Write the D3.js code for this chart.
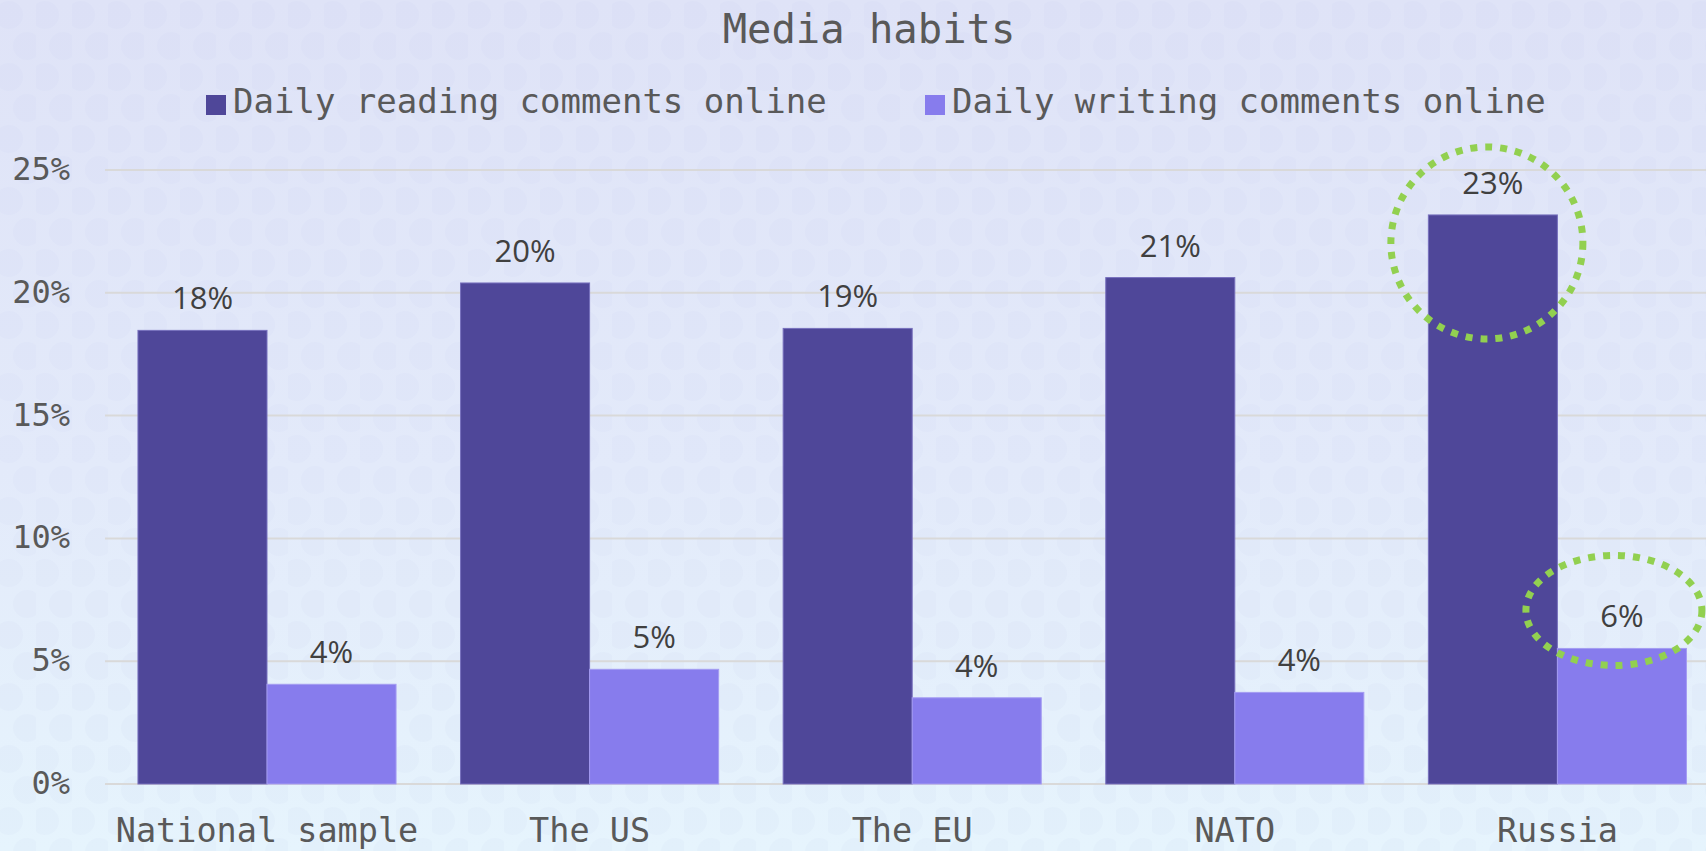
<!DOCTYPE html>
<html>
<head>
<meta charset="utf-8">
<script src="https://cdn.jsdelivr.net/npm/d3@7"></script>
<style>
  html, body { margin: 0; padding: 0; background: #e3e8f9; }
  svg { display: block; }
</style>
</head>
<body>
<svg id="chart" width="1706" height="851"></svg>
<script>
// ---- data ----
const title = "Media habits";
const categories = ["National sample", "The US", "The EU", "NATO", "Russia"];
const seriesNames = ["Daily reading comments online", "Daily writing comments online"];
const readingValues = [18.47, 20.4, 18.55, 20.62, 23.17];
const writingValues = [4.06, 4.67, 3.51, 3.73, 5.52];
const yTicks = [0, 5, 10, 15, 20, 25];
const highlighted = [{ category: "Russia", series: 0 }, { category: "Russia", series: 1 }];

const colors = ["#4f4799", "#877ced"];
const W = 1706, H = 851;
const svg = d3.select("#chart");

// background
const defs = svg.append("defs");
const grad = defs.append("linearGradient").attr("id", "bg").attr("x1", 0).attr("y1", 0).attr("x2", 0).attr("y2", 1);
grad.append("stop").attr("offset", "0%").attr("stop-color", "#dfe3f7");
grad.append("stop").attr("offset", "55%").attr("stop-color", "#e3eafa");
grad.append("stop").attr("offset", "100%").attr("stop-color", "#e6f4fd");
const pat = defs.append("pattern").attr("id", "dots").attr("patternUnits", "userSpaceOnUse")
  .attr("width", 36).attr("height", 62);
pat.append("circle").attr("cx", 9).attr("cy", 15).attr("r", 14).attr("fill", "#b8bfe8").attr("opacity", 0.12);
pat.append("circle").attr("cx", 27).attr("cy", 46).attr("r", 14).attr("fill", "#b8bfe8").attr("opacity", 0.12);
svg.append("rect").attr("width", W).attr("height", H).attr("fill", "url(#bg)");
svg.append("rect").attr("width", W).attr("height", H).attr("fill", "url(#dots)").attr("opacity", 0.6);

// scales
const x0 = d3.scaleBand().domain(categories).range([105.7, 1718.7]).paddingInner(0.2).paddingOuter(0.1);
const x1 = d3.scaleBand().domain([0, 1]).range([0, x0.bandwidth()]);
const y = d3.scaleLinear().domain([0, 25]).range([784, 170]);

const mono = "'DejaVu Sans Mono', 'Liberation Mono', monospace";
const sans = "'Open Sans', 'Noto Sans', sans-serif";

// gridlines
svg.append("g").selectAll("line").data(yTicks).join("line")
  .attr("x1", 105).attr("x2", 1720)
  .attr("y1", d => y(d)).attr("y2", d => y(d))
  .attr("stroke", "#d9d9d9").attr("stroke-width", 2);

// y axis labels
svg.append("g").selectAll("text").data(yTicks).join("text")
  .attr("x", 70).attr("y", d => y(d) + 10)
  .attr("text-anchor", "end")
  .attr("font-family", mono).attr("font-size", 32).attr("fill", "#595959")
  .text(d => d + "%");

// bars
const rows = categories.map((c, i) => ({ category: c, values: [readingValues[i], writingValues[i]] }));
const groups = svg.append("g").selectAll("g").data(rows).join("g")
  .attr("transform", d => `translate(${x0(d.category)},0)`);
groups.selectAll("rect").data(d => d.values.map((v, s) => ({ v, s }))).join("rect")
  .attr("x", d => x1(d.s)).attr("width", x1.bandwidth())
  .attr("y", d => y(d.v)).attr("height", d => y(0) - y(d.v))
  .attr("fill", d => colors[d.s])
  .attr("stroke", d => d.s === 0 ? "#7770bd" : "#a49cf2").attr("stroke-width", 1);
groups.selectAll("text").data(d => d.values.map((v, s) => ({ v, s }))).join("text")
  .attr("x", d => x1(d.s) + x1.bandwidth() / 2)
  .attr("y", d => y(d.v) - 21)
  .attr("text-anchor", "middle")
  .attr("font-family", sans).attr("font-size", 31).attr("fill", "#404040")
  .text(d => Math.round(d.v) + "%");

// category labels
svg.append("g").selectAll("text").data(categories).join("text")
  .attr("x", d => x0(d) + x0.bandwidth() / 2).attr("y", 842)
  .attr("text-anchor", "middle")
  .attr("font-family", mono).attr("font-size", 33.5).attr("fill", "#595959")
  .text(d => d);

// highlight ellipses
const vals = [readingValues, writingValues];
const ellipseShape = [{ dx: -6, dy: 28, rx: 96, ry: 96 }, { dx: -8, dy: -38, rx: 88, ry: 55 }];
svg.append("g").selectAll("ellipse").data(highlighted).join("ellipse")
  .attr("cx", d => x0(d.category) + x1(d.series) + x1.bandwidth() / 2 + ellipseShape[d.series].dx)
  .attr("cy", d => y(vals[d.series][categories.indexOf(d.category)]) + ellipseShape[d.series].dy)
  .attr("rx", d => ellipseShape[d.series].rx)
  .attr("ry", d => ellipseShape[d.series].ry)
  .attr("fill", "none").attr("stroke", "#92d050").attr("stroke-width", 7)
  .attr("stroke-dasharray", "7,8");

// title
svg.append("text").attr("x", 869).attr("y", 43).attr("text-anchor", "middle")
  .attr("font-family", mono).attr("font-size", 40.5).attr("fill", "#595959")
  .text(title);

// legend
const legendX = [206, 925];
const legend = svg.append("g").selectAll("g").data(seriesNames).join("g")
  .attr("transform", (d, i) => `translate(${legendX[i]},95)`);
legend.append("rect").attr("width", 20).attr("height", 20).attr("fill", (d, i) => colors[i]);
legend.append("text").attr("x", 27).attr("y", 18)
  .attr("font-family", mono).attr("font-size", 34).attr("fill", "#595959")
  .text(d => d);
</script>
</body>
</html>
